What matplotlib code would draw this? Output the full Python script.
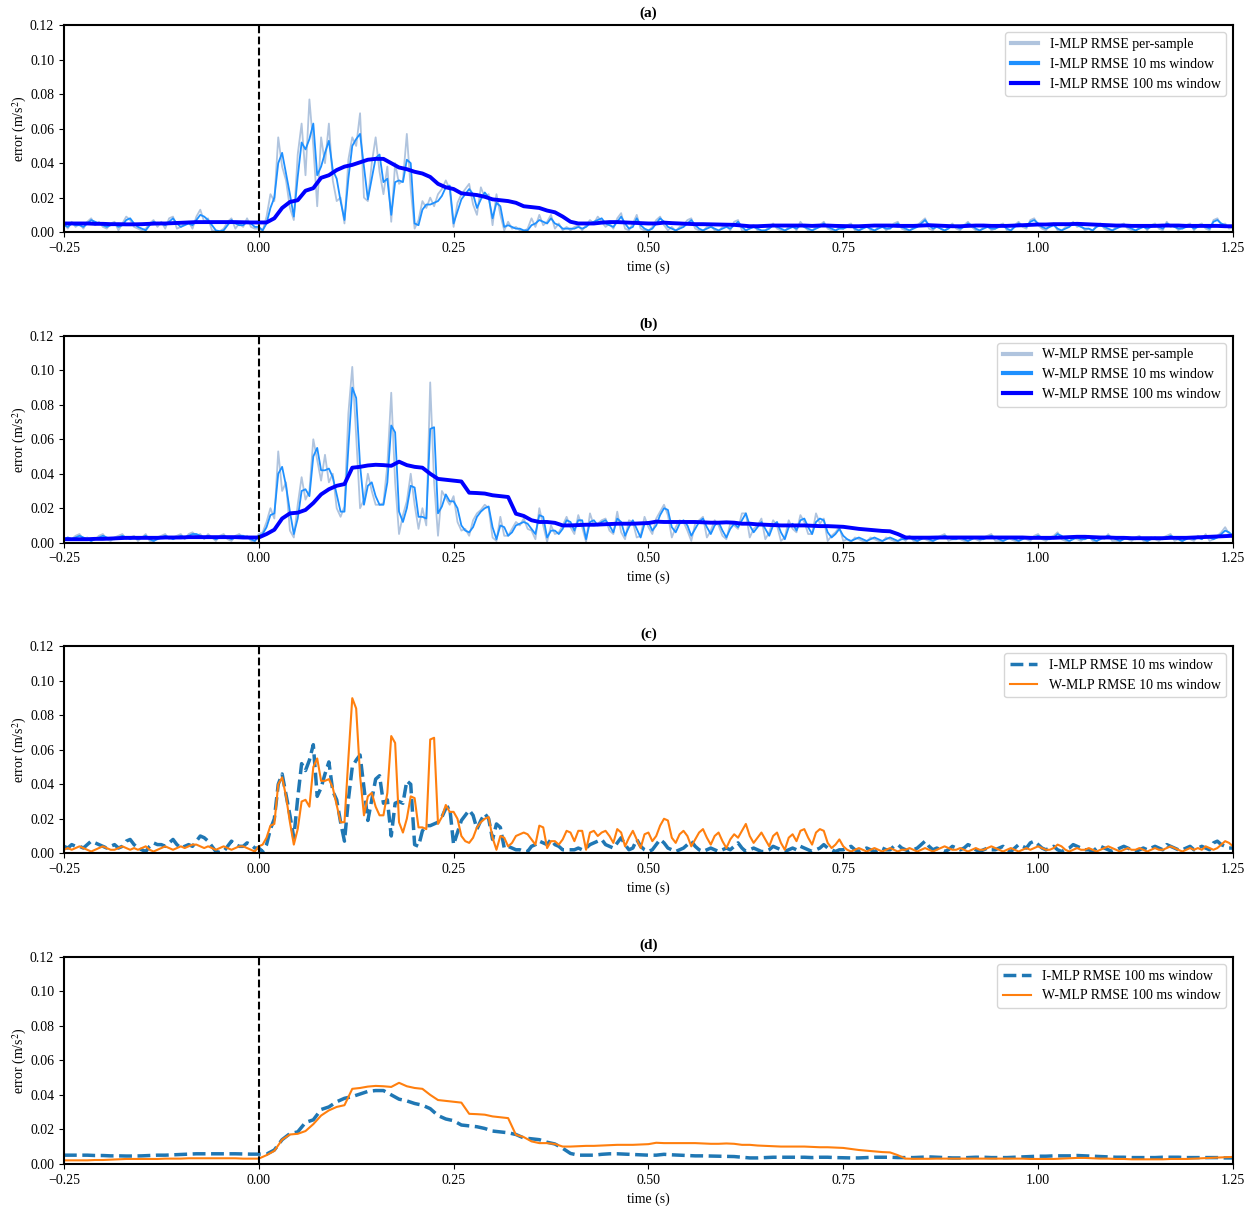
import numpy as np
import matplotlib
matplotlib.use("Agg")
import matplotlib.pyplot as plt

plt.rcParams['font.family'] = ['Liberation Serif', 'DejaVu Serif']
plt.rcParams['mathtext.fontset'] = 'stix'

# errors in 1e-3 m/s^2, 5 ms grid from -0.25 s to 1.25 s (one row = 50 ms)
imlp_sample = [
    5, 2, 6, 3, 5, 2, 6, 8, 4, 6,
    3, 2, 5, 6, 1, 5, 9, 7, 3, 2,
    1, 2, 5, 7, 3, 6, 2, 8, 9, 2,
    3, 5, 6, 2, 9, 13, 6, 8, 1, 0.5,
    0.5, 2, 6, 8, 2, 5, 3, 8, 3, 2,
    2, 0.5, 9, 22, 18, 55, 38, 30, 14, 7,
    45, 63, 33, 77, 50, 15, 55, 40, 63, 30,
    18, 20, 5, 42, 55, 50, 69, 20, 18, 40,
    55, 35, 22, 38, 6, 40, 28, 30, 57, 25,
    2, 7, 18, 14, 20, 15, 22, 25, 30, 25,
    3, 17, 22, 25, 28, 16, 10, 26, 20, 22,
    4, 22, 10, 1, 6, 2, 3, 1, 0.5, 2,
    8, 3, 10, 4, 6, 10, 2, 5, 1, 3,
    1, 3, 4, 1, 4, 7, 5, 9, 6, 3,
    5, 2, 8, 11, 2, 1, 5, 10, 2, 1,
    0.5, 3, 7, 9, 4, 1, 3, 0.5, 3, 4,
    7, 8, 2, 1, 0.5, 3, 4, 1, 0.5, 3,
    4, 1, 6, 7, 1, 0.5, 3, 4, 1, 0.5,
    1, 3, 5, 2, 1, 0.5, 3, 4, 1, 6,
    3, 1, 0.5, 3, 4, 6, 2, 1, 0.5, 3,
    2, 4, 5, 1, 0.5, 3, 4, 1, 0.5, 3,
    4, 1, 3, 5, 6, 2, 1, 0.5, 3, 4,
    6, 8, 2, 1, 4, 2, 0.5, 3, 5, 2,
    1, 4, 6, 3, 1, 0.5, 3, 4, 1, 2,
    4, 5, 1, 0.5, 4, 6, 3, 2, 7, 8,
    4, 2, 1, 4, 5, 1, 0.5, 3, 4, 6,
    3, 4, 1, 2, 0.5, 4, 5, 2, 1, 0.5,
    3, 4, 5, 2, 1, 0.5, 3, 4, 1, 4,
    5, 2, 1, 6, 3, 4, 1, 3, 4, 5,
    1, 4, 5, 2, 1, 7, 8, 4, 5, 2,
    3]

imlp_10ms = [
    4, 3, 5, 4, 4, 3, 5, 7, 6, 5,
    4, 3, 4, 5, 3, 4, 7, 8, 5, 3,
    2, 1, 4, 6, 5, 5, 4, 6, 8, 5,
    3, 4, 5, 4, 7, 10, 9, 7, 4, 1,
    0.5, 1, 4, 7, 5, 4, 4, 6, 5, 3,
    3, 1, 5, 14, 20, 40, 46, 34, 22, 9,
    32, 52, 48, 54, 63, 33, 38, 46, 53, 36,
    31, 18, 7, 31, 50, 54, 57, 38, 19, 31,
    43, 45, 29, 31, 10, 29, 30, 29, 42, 40,
    5, 4, 13, 16, 16, 17, 18, 21, 26, 27,
    5, 12, 19, 22, 25, 22, 14, 19, 23, 20,
    8, 17, 15, 3, 4, 3, 2, 2, 1, 1,
    4, 5, 7, 6, 5, 8, 5, 4, 2, 2,
    2, 2, 3, 2, 3, 5, 6, 7, 8, 5,
    4, 3, 6, 9, 5, 2, 3, 8, 4, 2,
    1, 2, 5, 8, 6, 3, 2, 1, 2, 3,
    5, 7, 4, 2, 1, 2, 3, 2, 1, 2,
    3, 2, 4, 6, 3, 1, 2, 3, 2, 1,
    1, 2, 4, 3, 2, 1, 2, 3, 2, 4,
    3, 2, 1, 2, 3, 5, 3, 2, 1, 2,
    2, 3, 4, 2, 1, 2, 3, 2, 1, 2,
    3, 2, 2, 4, 5, 3, 2, 1, 2, 3,
    5, 7, 4, 2, 3, 2, 1, 2, 4, 3,
    2, 3, 5, 4, 2, 1, 2, 3, 2, 2,
    3, 4, 2, 1, 3, 5, 4, 3, 6, 7,
    5, 3, 2, 3, 4, 2, 1, 2, 3, 5,
    4, 3, 2, 2, 1, 3, 4, 3, 2, 1,
    2, 3, 4, 3, 2, 1, 2, 3, 2, 3,
    4, 3, 2, 5, 4, 3, 2, 2, 3, 4,
    2, 3, 4, 3, 2, 6, 7, 5, 4, 3,
    3]

wmlp_sample = [
    1, 3, 2, 4, 5, 2, 3, 1, 2, 4,
    5, 2, 1, 3, 4, 5, 2, 3, 4, 1,
    3, 5, 1, 0.5, 3, 4, 5, 2, 3, 4,
    5, 2, 5, 6, 4, 5, 2, 5, 3, 1,
    4, 5, 2, 1, 4, 5, 3, 4, 1, 0.5,
    5, 6, 12, 20, 14, 53, 30, 35, 7, 3,
    22, 38, 25, 30, 60, 48, 36, 51, 35, 40,
    20, 15, 21, 75, 102, 62, 20, 25, 40, 30,
    22, 22, 23, 45, 87, 35, 5, 16, 24, 40,
    22, 8, 20, 10, 93, 35, 4, 30, 26, 22,
    27, 12, 7, 8, 4, 13, 17, 19, 22, 20,
    3, 1, 15, 4, 4, 8, 12, 10, 14, 8,
    7, 2, 20, 10, 0.5, 10, 5, 6, 10, 15,
    9, 5, 16, 9, 0.5, 17, 10, 11, 13, 14,
    7, 5, 18, 6, 2, 13, 12, 3, 4, 15,
    9, 5, 14, 18, 22, 16, 3, 9, 13, 12,
    7, 1, 11, 13, 15, 3, 7, 13, 10, 4,
    2, 11, 10, 8, 17, 17, 3, 8, 10, 14,
    2, 6, 13, 10, 1, 3, 13, 8, 6, 16,
    12, 5, 5, 17, 11, 14, 1, 4, 6, 9,
    1, 2, 0.5, 3, 2, 1, 0.5, 3, 2, 1,
    0.5, 3, 2, 1, 0.5, 3, 1, 4, 1, 0.5,
    3, 2, 1, 0.5, 3, 4, 5, 1, 2, 3,
    2, 1, 0.5, 3, 2, 1, 3, 4, 5, 1,
    1, 0.5, 3, 2, 1, 0.5, 3, 2, 1, 4,
    5, 2, 1, 3, 4, 6, 2, 1, 0.5, 3,
    2, 1, 3, 4, 1, 0.5, 3, 2, 5, 1,
    1, 0.5, 3, 2, 1, 3, 4, 1, 0.5, 3,
    2, 1, 3, 4, 5, 1, 2, 0.5, 3, 2,
    1, 4, 2, 5, 1, 2, 4, 6, 9, 5,
    3]

wmlp_10ms = [
    2, 3, 2, 3, 4, 3, 2, 1, 2, 3,
    4, 3, 2, 2, 3, 4, 3, 2, 3, 2,
    3, 4, 2, 1, 2, 3, 4, 3, 2, 3,
    4, 3, 4, 5, 5, 4, 3, 4, 3, 2,
    3, 4, 3, 2, 3, 4, 4, 3, 2, 1,
    4, 5, 9, 16, 17, 40, 44, 33, 18, 5,
    14, 30, 31, 27, 50, 55, 42, 42, 43, 38,
    28, 18, 18, 55, 90, 84, 45, 22, 33, 35,
    27, 22, 22, 35, 68, 64, 18, 12, 20, 33,
    32, 15, 15, 14, 66, 67, 17, 21, 28, 24,
    24, 20, 10, 7, 6, 9, 15, 18, 20, 21,
    9, 2, 10, 9, 4, 6, 10, 11, 12, 11,
    8, 5, 16, 15, 3, 7, 7, 5, 8, 13,
    12, 7, 13, 13, 2, 12, 13, 10, 12, 13,
    10, 6, 14, 12, 4, 9, 13, 8, 3, 11,
    12, 7, 10, 16, 20, 19, 9, 6, 11, 13,
    10, 4, 8, 12, 14, 9, 5, 10, 12, 7,
    3, 8, 11, 9, 13, 17, 10, 6, 9, 12,
    8, 4, 10, 12, 6, 2, 9, 11, 7, 13,
    14, 9, 5, 12, 14, 13, 6, 3, 5, 8,
    4, 2, 1, 2, 3, 2, 1, 2, 3, 2,
    1, 2, 3, 2, 1, 2, 2, 3, 2, 1,
    2, 3, 2, 1, 2, 3, 4, 3, 2, 2,
    3, 2, 1, 2, 3, 2, 2, 3, 4, 3,
    2, 1, 2, 3, 2, 1, 2, 3, 2, 3,
    4, 3, 2, 2, 3, 5, 4, 2, 1, 2,
    3, 2, 2, 3, 2, 1, 2, 3, 4, 3,
    2, 1, 2, 3, 2, 2, 3, 2, 1, 2,
    3, 2, 2, 3, 4, 3, 2, 1, 2, 3,
    2, 3, 2, 4, 3, 2, 3, 5, 7, 6,
    4]

# 100 ms window, 10 ms grid from -0.25 s to 1.25 s (one row = 100 ms)
imlp_100ms = [
    5, 5, 5, 5, 4.8, 4.8, 4.6, 4.6, 4.5, 4.5,
    4.6, 4.8, 5, 5, 5.2, 5.4, 5.6, 5.8, 5.8, 5.8,
    5.8, 5.8, 5.8, 5.7, 5.6, 5.6, 5.6, 8, 14, 17.5,
    18.5, 24, 25.5, 31.5, 33, 36, 38, 39, 40.5, 42,
    42.5, 42.5, 40, 37.5, 36.5, 35, 34, 32, 28, 26,
    25, 22.5, 22, 21.5, 20.5, 19, 18.5, 18, 17, 15,
    14.5, 14, 12.5, 11.5, 9, 6, 5, 5, 5, 5.5,
    5.8, 5.8, 5.6, 5.4, 5.2, 5, 5, 5.5, 5.2, 5,
    4.8, 4.6, 4.6, 4.5, 4.4, 4.3, 4.2, 3.8, 3.4, 3.4,
    3.6, 3.8, 3.8, 3.8, 3.8, 3.8, 3.6, 3.8, 3.8, 3.6,
    3.5, 3.4, 3.4, 3.6, 3.8, 3.8, 3.8, 3.6, 3.6, 3.6,
    3.8, 4, 3.8, 3.6, 3.4, 3.4, 3.6, 3.8, 3.8, 3.6,
    3.6, 3.6, 3.8, 4, 4.2, 4.4, 4.4, 4.6, 4.6, 4.6,
    4.8, 4.6, 4.4, 4.2, 4, 3.8, 3.8, 3.6, 3.6, 3.6,
    3.6, 3.8, 3.8, 3.8, 3.6, 3.6, 3.6, 3.6, 3.6, 3.4,
    3.4]

wmlp_100ms = [
    2, 2, 2, 2, 2.2, 2.2, 2.4, 2.6, 2.8, 2.8,
    2.8, 2.8, 2.8, 3, 3, 3, 3.2, 3.2, 3.2, 3.2,
    3.2, 3.2, 3.2, 3, 3, 3, 5, 7.5, 14, 17,
    17.4, 19, 23, 28, 31, 33, 34, 43.5, 44, 44.8,
    45.2, 45, 44.6, 47, 45, 44, 43.5, 40, 37, 36.5,
    36, 35.5, 29, 28.8, 28.5, 27.5, 27, 26.5, 16.8, 15.5,
    13, 12, 12, 11.5, 10, 10, 10.2, 10.4, 10.4, 10.6,
    10.8, 11, 11, 11, 11.2, 11.4, 12.2, 12, 12, 12,
    12, 12, 11.8, 11.6, 11.6, 11.8, 11.6, 11, 11, 10.6,
    10.4, 10.2, 10, 10, 10, 10, 9.8, 9.6, 9.6, 9.4,
    9.2, 8.6, 8, 7.6, 7.2, 6.8, 6.6, 5, 3, 2.9,
    2.9, 2.9, 3, 3, 3, 3, 3, 3, 3, 3,
    3, 3, 3, 3, 2.8, 2.8, 2.8, 2.8, 3, 3.2,
    3.4, 3.4, 3.2, 3, 3, 2.8, 2.8, 2.6, 2.6, 2.6,
    2.6, 2.6, 2.8, 2.8, 2.8, 3, 3.2, 3.4, 3.6, 3.8,
    4]

t5 = -0.25 + 0.005 * np.arange(len(imlp_10ms))
t10 = -0.25 + 0.01 * np.arange(len(imlp_100ms))
s = 1e-3

fig, axes = plt.subplots(4, 1, figsize=(12.53, 12.06), dpi=100)
fig.subplots_adjust(left=0.051, right=0.984, top=0.979, bottom=0.035, hspace=0.502)

def setup(ax, title):
    ax.axvline(0, color='black', ls='--', lw=1.5)
    ax.set_xlim(-0.25, 1.25)
    ax.set_ylim(0, 0.12)
    ax.set_xticks([-0.25, 0, 0.25, 0.5, 0.75, 1.0, 1.25])
    ax.set_xticklabels(['\u22120.25', '0.00', '0.25', '0.50', '0.75', '1.00', '1.25'])
    ax.set_yticks(np.arange(0, 0.121, 0.02))
    ax.yaxis.set_major_formatter(matplotlib.ticker.FormatStrFormatter('%.2f'))
    ax.set_title(title, fontweight='bold', fontsize=11, pad=6)
    ax.set_xlabel('time (s)', fontsize=10)
    ax.set_ylabel('error (m/s$^2$)', fontsize=10, labelpad=1)
    ax.tick_params(labelsize=10)
    for sp in ax.spines.values():
        sp.set_linewidth(1.5)

for ax, name, ps, w10, w100, title in [
        (axes[0], 'I-MLP', imlp_sample, imlp_10ms, imlp_100ms, '(a)'),
        (axes[1], 'W-MLP', wmlp_sample, wmlp_10ms, wmlp_100ms, '(b)')]:
    ax.plot(t5, np.array(ps) * s, color='lightsteelblue', lw=1.3,
            label=name + ' RMSE per-sample')
    ax.plot(t5, np.array(w10) * s, color='dodgerblue', lw=1.3,
            label=name + ' RMSE 10 ms window')
    ax.plot(t10, np.array(w100) * s, color='blue', lw=2.8,
            label=name + ' RMSE 100 ms window')
    setup(ax, title)
    leg = ax.legend(loc='upper right', fontsize=10)
    for ln in leg.get_lines():
        ln.set_linewidth(3)

ax = axes[2]
ax.plot(t5, np.array(imlp_10ms) * s, color='tab:blue', lw=2.5, ls='--',
        label='I-MLP RMSE 10 ms window')
ax.plot(t5, np.array(wmlp_10ms) * s, color='tab:orange', lw=1.5,
        label='W-MLP RMSE 10 ms window')
setup(ax, '(c)')
ax.legend(loc='upper right', fontsize=10)

ax = axes[3]
ax.plot(t10, np.array(imlp_100ms) * s, color='tab:blue', lw=2.5, ls='--',
        label='I-MLP RMSE 100 ms window')
ax.plot(t10, np.array(wmlp_100ms) * s, color='tab:orange', lw=1.5,
        label='W-MLP RMSE 100 ms window')
setup(ax, '(d)')
ax.legend(loc='upper right', fontsize=10)

fig.savefig('out.png', dpi=100)
